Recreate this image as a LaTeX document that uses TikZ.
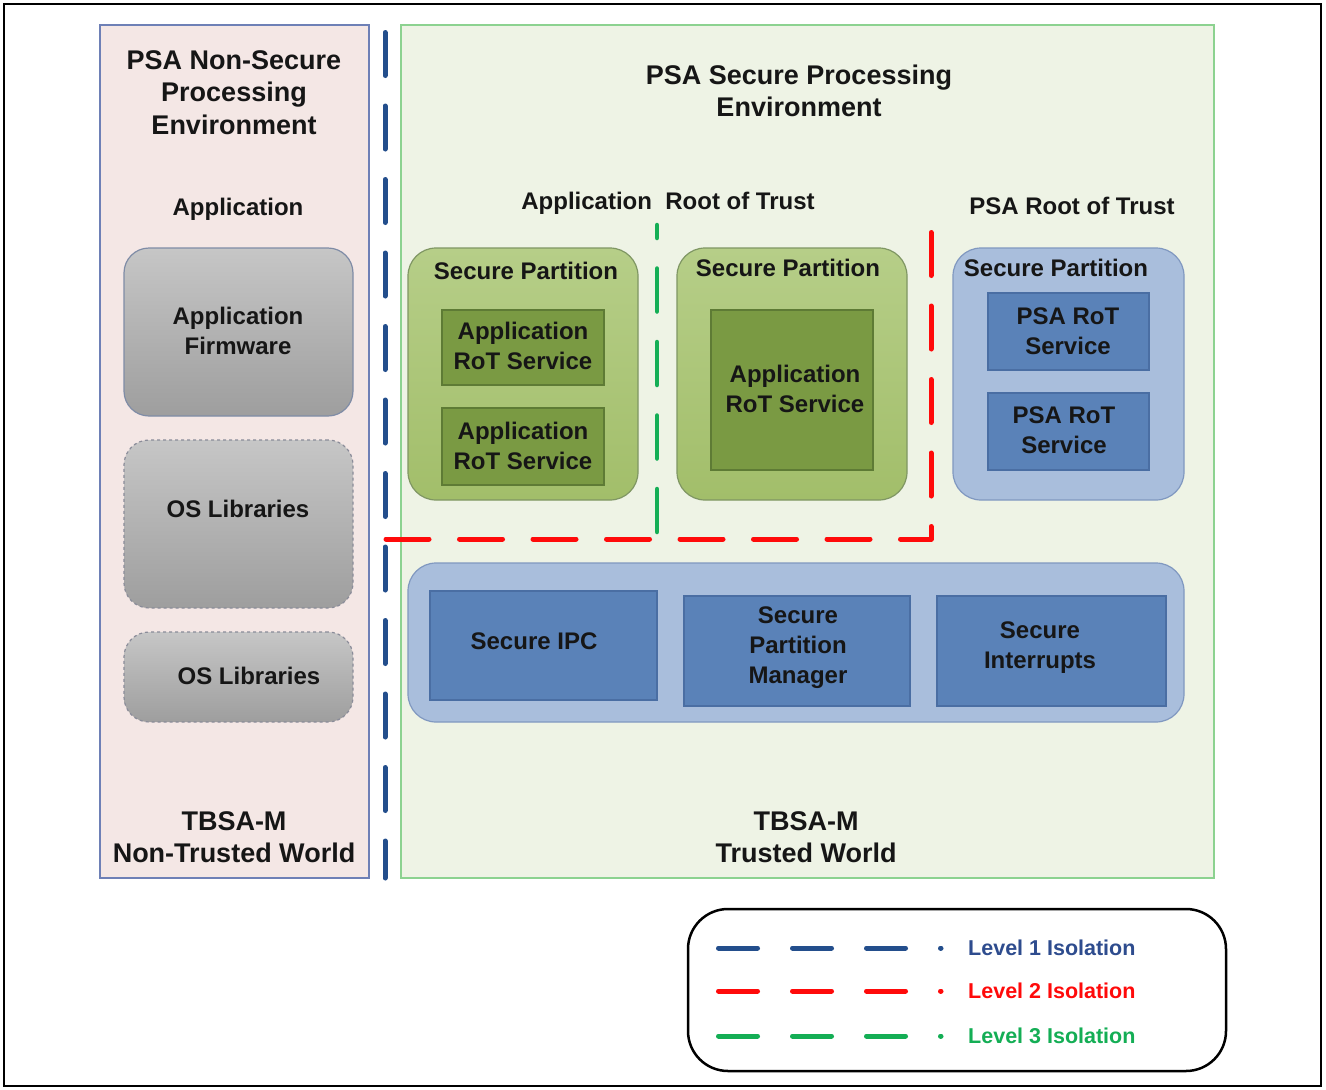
\documentclass[tikz,border=0pt]{standalone}
\usepackage{fontspec}
\setmainfont{Liberation Sans}
\definecolor{pinkbg}{HTML}{F4E7E5}
\definecolor{pinkbd}{HTML}{6E80B6}
\definecolor{greenbg}{HTML}{EEF3E5}
\definecolor{greenbd}{HTML}{8CD290}
\definecolor{greytop}{HTML}{C6C6C6}
\definecolor{greybot}{HTML}{9E9E9E}
\definecolor{greybd}{HTML}{7F8CA6}
\definecolor{greydash}{HTML}{8A8C99}
\definecolor{sptop}{HTML}{B6CE88}
\definecolor{spbot}{HTML}{A2BE6A}
\definecolor{spbd}{HTML}{7F9663}
\definecolor{svfill}{HTML}{7A9A43}
\definecolor{svbd}{HTML}{5E7B35}
\definecolor{bluesp}{HTML}{A9BEDC}
\definecolor{bluespbd}{HTML}{8098C0}
\definecolor{bluesv}{HTML}{5A82B8}
\definecolor{bluesvbd}{HTML}{4A6EA3}
\definecolor{isoone}{HTML}{234E8C}
\definecolor{isotwo}{HTML}{FF0A0A}
\definecolor{isothree}{HTML}{14AE55}
\definecolor{legone}{HTML}{2E4C8E}
\definecolor{txtc}{HTML}{161616}
\begin{document}
\begin{tikzpicture}[x=1pt,y=-1pt,
  box/.style={anchor=north west, inner sep=0pt, outer sep=0pt},
  panel/.style={box, line width=1.2pt},
  greybox/.style={box, rounded corners=25pt, top color=greytop, bottom color=greybot},
  spgreen/.style={box, rounded corners=28pt, top color=sptop, bottom color=spbot, draw=spbd, line width=1.2pt},
  svgreen/.style={box, fill=svfill, draw=svbd, line width=1.2pt},
  spblue/.style={box, rounded corners=28pt, fill=bluesp, draw=bluespbd, line width=1.2pt},
  svblue/.style={box, fill=bluesv, draw=bluesvbd, line width=1.2pt},
  ttl/.style={font=\fontsize{27pt}{32.5pt}\selectfont\bfseries, align=center, inner sep=0pt, text=txtc},
  lbl/.style={font=\fontsize{24pt}{30pt}\selectfont\bfseries, align=center, inner sep=0pt, text=txtc},
  legt/.style={font=\fontsize{21.5pt}{26pt}\selectfont\bfseries, anchor=west, inner sep=0pt},
  isoline/.style={line width=5pt, line cap=round, line join=round}
]
\useasboundingbox (0,0) rectangle (1326,1090);
\fill[white] (0,0) rectangle (1326,1090);
\draw[line width=2pt] (4,4) rectangle (1321,1086);

% panels
\node[panel, fill=pinkbg, draw=pinkbd, minimum width=269pt, minimum height=853pt] (nspe) at (100,25) {};
\node[panel, fill=greenbg, draw=greenbd, minimum width=813pt, minimum height=853pt] (spe) at (401,25) {};

% non-secure side
\node[ttl] (nstitle) at (234,92.5) {PSA Non-Secure\\Processing\\Environment};
\node[lbl] (applbl) at (238,209.5) {Application};
\node[greybox, draw=greybd, line width=1.2pt, minimum width=229pt, minimum height=168pt] (fwbox) at (124,248) {};
\node[lbl] (fwtxt) at (238,331) {Application\\Firmware};
\node[greybox, draw=greydash, dashed, line width=1.2pt, minimum width=229pt, minimum height=168pt] (os1box) at (124,440) {};
\node[lbl] (os1txt) at (238,509) {OS Libraries};
\node[greybox, draw=greydash, dashed, line width=1.2pt, minimum width=229pt, minimum height=90pt] (os2box) at (124,632) {};
\node[lbl] (os2txt) at (249,676) {OS Libraries};
\node[ttl] (ntw) at (234,837) {TBSA-M\\Non-Trusted World};

% secure side
\node[ttl] (stitle) at (799,91) {PSA Secure Processing\\Environment};
\node[lbl] (artlbl) at (668,203.5) {Application\ \ Root of Trust};
\node[lbl] (prtlbl) at (1072,206) {PSA Root of Trust};

\node[spgreen, minimum width=230pt, minimum height=252pt] (sp1) at (408,248) {};
\node[lbl] (sp1t) at (526,271) {Secure Partition};
\node[svgreen, minimum width=162pt, minimum height=75pt] (sv1) at (442,310) {};
\node[lbl] (sv1t) at (523,346) {Application\\RoT Service};
\node[svgreen, minimum width=162pt, minimum height=77pt] (sv2) at (442,408) {};
\node[lbl] (sv2t) at (523,446) {Application\\RoT Service};

\node[spgreen, minimum width=230pt, minimum height=252pt] (sp2) at (677,248) {};
\node[lbl] (sp2t) at (788,268) {Secure Partition};
\node[svgreen, minimum width=162pt, minimum height=160pt] (sv3) at (711,310) {};
\node[lbl] (sv3t) at (795,388.5) {Application\\RoT Service};

\node[spblue, minimum width=231pt, minimum height=252pt] (sp3) at (953,248) {};
\node[lbl] (sp3t) at (1056,268) {Secure Partition};
\node[svblue, minimum width=161pt, minimum height=77pt] (psv1) at (988,293) {};
\node[lbl] (psv1t) at (1068,331) {PSA RoT\\Service};
\node[svblue, minimum width=161pt, minimum height=77pt] (psv2) at (988,393) {};
\node[lbl] (psv2t) at (1064,430.5) {PSA RoT\\Service};

\node[spblue, minimum width=776pt, minimum height=159pt] (spm) at (408,563) {};
\node[svblue, minimum width=227pt, minimum height=109pt] (ipc) at (430,591) {};
\node[lbl] (ipct) at (534,641) {Secure IPC};
\node[svblue, minimum width=226pt, minimum height=110pt] (mgr) at (684,596) {};
\node[lbl] (mgrt) at (798,648) {Secure\\Partition\\Manager};
\node[svblue, minimum width=229pt, minimum height=110pt] (irq) at (937,596) {};
\node[lbl] (irqt) at (1040,648) {Secure\\Interrupts};

\node[ttl] (tw) at (806,837) {TBSA-M\\Trusted World};

% isolation boundaries
\draw[isoline, isoone, dash pattern=on 43pt off 30.5pt] (385,32.5) -- (385,878);
\draw[isoline, isotwo, dash pattern=on 43pt off 30.5pt] (386,539) -- (931,539) -- (931,230);
\draw[isoline, isothree, line width=4.5pt, dash pattern=on 43pt off 30.5pt] (657,532) -- (657,225);

% legend
\node[box, draw=black, fill=white, line width=2.5pt, rounded corners=40pt, minimum width=538pt, minimum height=162pt] (legend) at (688,909) {};
\draw[isoline, isoone, dash pattern=on 39pt off 35pt] (718.5,948) -- (941,948);
\draw[isoline, isotwo, dash pattern=on 39pt off 35pt] (718.5,991) -- (941,991);
\draw[isoline, isothree, dash pattern=on 39pt off 35pt] (718.5,1036) -- (941,1036);
\node[legt, text=legone] (lg1) at (968,948) {Level 1 Isolation};
\node[legt, text=isotwo] (lg2) at (968,991) {Level 2 Isolation};
\node[legt, text=isothree] (lg3) at (968,1036) {Level 3 Isolation};
\end{tikzpicture}
\end{document}
